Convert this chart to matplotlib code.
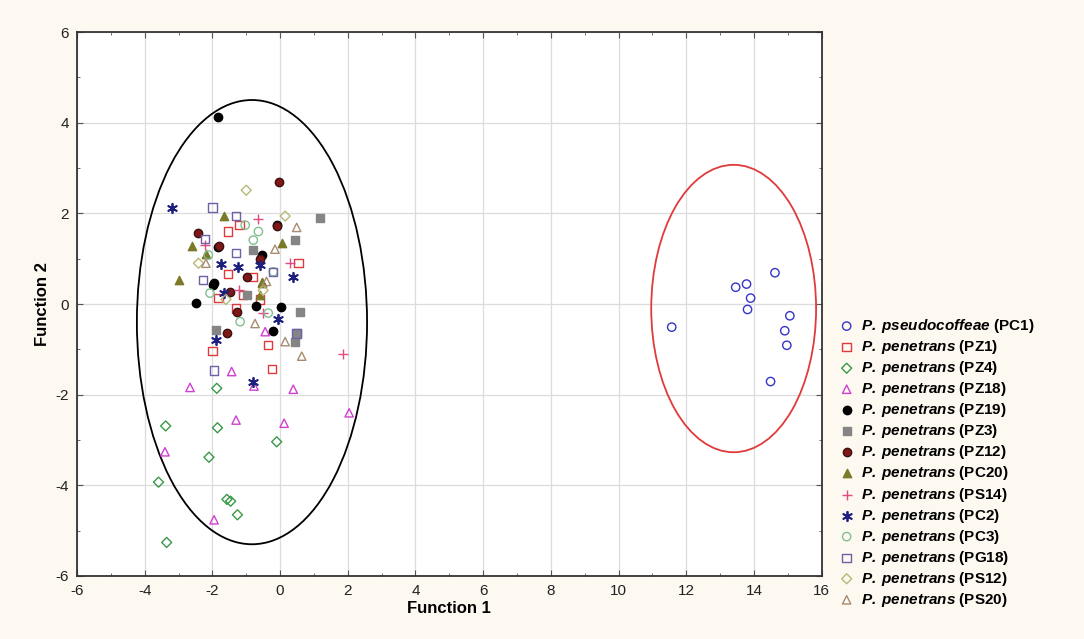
import matplotlib
matplotlib.use('Agg')
import matplotlib.pyplot as plt
from matplotlib.patches import Ellipse
from matplotlib.ticker import MultipleLocator

plt.rcParams['font.family'] = 'Liberation Sans'
plt.rcParams['axes.unicode_minus'] = False
plt.rcParams['mathtext.fontset'] = 'custom'
plt.rcParams['mathtext.rm'] = 'Liberation Sans'
plt.rcParams['mathtext.bf'] = 'Liberation Sans:bold'
plt.rcParams['mathtext.bfit'] = 'Liberation Sans:italic:bold'

# Canonical discriminant scores, one (x, y) list per isolate
pc1_x = [11.57, 14.62, 13.46, 13.78, 13.90, 13.81, 15.06, 14.91, 14.97, 14.49]
pc1_y = [-0.51, 0.69, 0.37, 0.44, 0.13, -0.12, -0.26, -0.59, -0.91, -1.71]

pz1_x = [-2.0, -0.35, -0.23, -1.53, 0.54, -1.53, -1.82, -1.1, -0.8, -1.3, -1.2, -0.6]
pz1_y = [-1.03, -0.9, -1.44, 1.6, 0.9, 0.66, 0.13, 0.2, 0.6, -0.1, 1.75, 0.1]

pz4_x = [-3.38, -1.85, -0.1, -1.87, -2.10, -3.59, -1.57, -1.46, -1.26, -3.35]
pz4_y = [-2.69, -2.73, -3.04, -1.86, -3.38, -3.93, -4.31, -4.35, -4.65, -5.26]

pz18_x = [-2.66, -1.43, -0.77, 0.39, -1.30, 0.12, -3.40, -1.95, 2.04, -0.44]
pz18_y = [-1.84, -1.49, -1.81, -1.88, -2.56, -2.63, -3.26, -4.76, -2.4, -0.61]

pz19_x = [-1.84, -2.49, 0.03, -0.22, -0.71, -1.97, -0.54, -1.95, -1.82, -0.1]
pz19_y = [4.12, 0.03, -0.07, -0.59, -0.04, 0.42, 1.08, 0.47, 1.26, 1.74]

pz3_x = [1.18, 0.44, 0.59, 0.49, -1.89, -0.98, -0.79, 0.44]
pz3_y = [1.89, 1.41, -0.17, -0.65, -0.57, 0.2, 1.19, -0.83]

pz12_x = [-0.03, -0.1, -2.41, -1.8, -1.48, -1.28, -0.98, -1.57, -0.6]
pz12_y = [2.70, 1.71, 1.56, 1.27, 0.27, -0.17, 0.6, -0.65, 1.0]

pc20_x = [-1.67, -3.0, -2.61, 0.05, -0.54, -0.54, -2.2, -0.6]
pc20_y = [1.94, 0.54, 1.29, 1.35, 0.49, 0.46, 1.1, 0.2]

ps14_x = [1.85, -0.66, 0.3, -2.21, -1.2, -0.5]
ps14_y = [-1.1, 1.87, 0.91, 1.3, 0.3, -0.2]

pc2_x = [-3.18, 0.37, -1.75, -1.23, -0.59, -0.79, -1.9, -0.05, -1.67]
pc2_y = [2.11, 0.59, 0.88, 0.82, 0.86, -1.71, -0.79, -0.34, 0.25]

pc3_x = [-1.03, -0.64, -2.12, -0.2, -0.35, -1.18, -2.07, -0.79]
pc3_y = [1.74, 1.6, 1.08, 0.71, -0.2, -0.39, 0.24, 1.41]

pg18_x = [-2.0, -1.3, -2.28, -1.3, -1.95, 0.49, -2.21, -0.2]
pg18_y = [2.13, 1.94, 0.53, 1.13, -1.47, -0.65, 1.43, 0.71]

ps12_x = [-1.0, 0.15, -2.41, -0.5, -1.6]
ps12_y = [2.51, 1.94, 0.9, 0.3, 0.1]

ps20_x = [0.49, -0.15, -2.19, -0.74, 0.15, 0.64, -0.4]
ps20_y = [1.69, 1.21, 0.9, -0.43, -0.83, -1.15, 0.5]

fig = plt.figure(figsize=(10.84, 6.39), dpi=100, facecolor='#fdf8f0')
ax = fig.add_axes([0.071, 0.0986, 0.687, 0.8513])
ax.set_facecolor('white')


def lab(code, species='P.\\:penetrans'):
    return r'$\mathbfit{' + species + '}$ (' + code + ')'


ms = 36
lw = 1.0
ax.scatter(pc1_x, pc1_y, s=ms, marker='o', facecolors='none', edgecolors='#3535c8', linewidths=lw,
           label=lab('PC1', 'P.\\:pseudocoffeae'), zorder=3)
ax.scatter(pz1_x, pz1_y, s=ms, marker='s', facecolors='none', edgecolors='#e03a3a', linewidths=lw,
           label=lab('PZ1'), zorder=3)
ax.scatter(pz4_x, pz4_y, s=26, marker='D', facecolors='none', edgecolors='#3a9a48', linewidths=lw,
           label=lab('PZ4'), zorder=3)
ax.scatter(pz18_x, pz18_y, s=ms, marker='^', facecolors='none', edgecolors='#d040d0', linewidths=lw,
           label=lab('PZ18'), zorder=3)
ax.scatter(pz19_x, pz19_y, s=ms, marker='o', facecolors='black', edgecolors='black', linewidths=lw,
           label=lab('PZ19'), zorder=3)
ax.scatter(pz3_x, pz3_y, s=ms, marker='s', facecolors='#858585', edgecolors='#858585', linewidths=lw,
           label=lab('PZ3'), zorder=3)
ax.scatter(pz12_x, pz12_y, s=ms, marker='o', facecolors='#801818', edgecolors='#3a1010', linewidths=lw,
           label=lab('PZ12'), zorder=3)
ax.scatter(pc20_x, pc20_y, s=ms, marker='^', facecolors='#7a7a28', edgecolors='#7a7a28', linewidths=lw,
           label=lab('PC20'), zorder=3)
ax.scatter(ps14_x, ps14_y, s=46, marker='+', color='#e04a80', linewidths=lw,
           label=lab('PS14'), zorder=3)
ax.scatter(pc2_x, pc2_y, s=46, marker=(6, 2, 0), color='#1e2080', linewidths=1.3,
           label=lab('PC2'), zorder=3)
ax.scatter(pc3_x, pc3_y, s=ms, marker='o', facecolors='none', edgecolors='#80c090', linewidths=lw,
           label=lab('PC3'), zorder=3)
ax.scatter(pg18_x, pg18_y, s=ms, marker='s', facecolors='none', edgecolors='#7060a8', linewidths=lw,
           label=lab('PG18'), zorder=3)
ax.scatter(ps12_x, ps12_y, s=26, marker='D', facecolors='none', edgecolors='#b8b878', linewidths=lw,
           label=lab('PS12'), zorder=3)
ax.scatter(ps20_x, ps20_y, s=ms, marker='^', facecolors='none', edgecolors='#a88c70', linewidths=lw,
           label=lab('PS20'), zorder=3)

# group ellipses
ax.add_patch(Ellipse((-0.83, -0.4), 6.8, 9.8, fill=False, edgecolor='black', lw=1.3, zorder=2))
ax.add_patch(Ellipse((13.4, -0.1), 4.87, 6.34, fill=False, edgecolor='#e03a3a', lw=1.3, zorder=2))

ax.set_xlim(-6, 16)
ax.set_ylim(-6, 6)
ax.xaxis.set_major_locator(MultipleLocator(2))
ax.yaxis.set_major_locator(MultipleLocator(2))
ax.xaxis.set_minor_locator(MultipleLocator(1))
ax.yaxis.set_minor_locator(MultipleLocator(1))
ax.tick_params(which='both', direction='in', top=True, right=True, color='#555555')
ax.tick_params(which='major', length=4, labelsize=11, labelcolor='#222222', pad=6)
ax.tick_params(which='minor', length=2.5)
ax.grid(True, which='major', color='#dcdcdc', lw=0.9, zorder=0)
ax.set_axisbelow(True)
for s in ax.spines.values():
    s.set_color('#333333')
    s.set_linewidth(1.3)

ax.set_xlabel('Function 1', fontsize=12, fontweight='bold', labelpad=2)
ax.set_ylabel('Function 2', fontsize=12, fontweight='bold', labelpad=4)

leg = ax.legend(loc='upper left', bbox_to_anchor=(1.012, 0.49), frameon=False,
                prop={'size': 11, 'weight': 'bold'}, handletextpad=0.4,
                labelspacing=0.2, borderpad=0, handlelength=1.1, scatterpoints=1)

fig.savefig('out.png', dpi=100, facecolor=fig.get_facecolor())
